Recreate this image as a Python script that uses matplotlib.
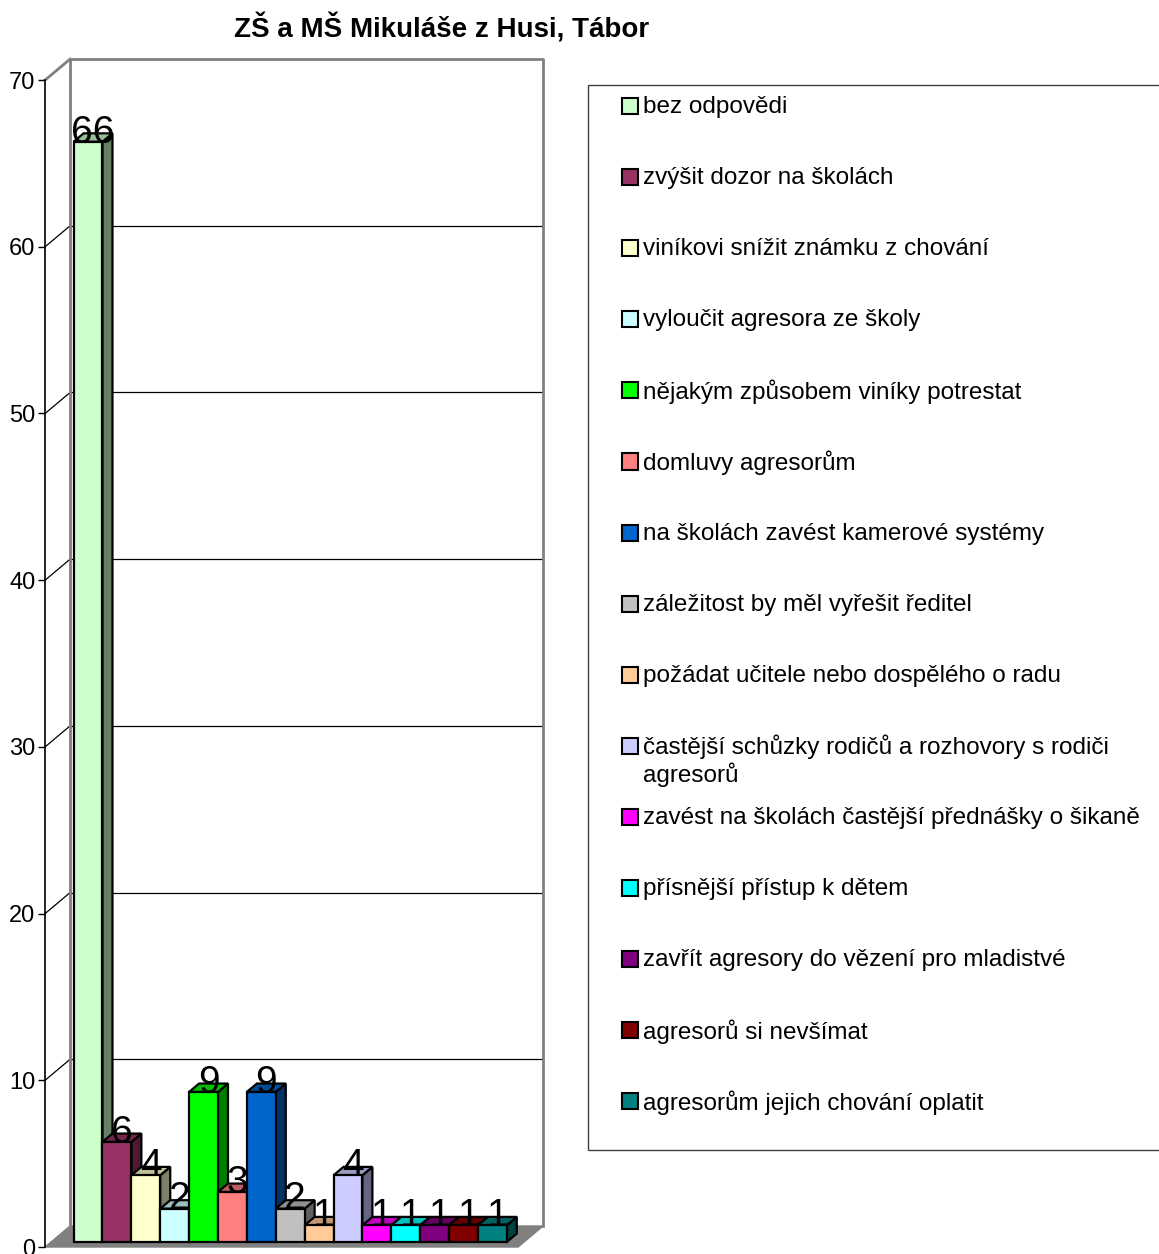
import matplotlib
matplotlib.use("Agg")
import matplotlib.pyplot as plt
from matplotlib.patches import Polygon, Rectangle
import numpy as np

plt.rcParams['font.family'] = ['Liberation Sans', 'DejaVu Sans']

# --- data ---
title = "ZŠ a MŠ Mikuláše z Husi, Tábor"
categories = [
    "bez odpovědi",
    "zvýšit dozor na školách",
    "viníkovi snížit známku z chování",
    "vyloučit agresora ze školy",
    "nějakým způsobem viníky potrestat",
    "domluvy agresorům",
    "na školách zavést kamerové systémy",
    "záležitost by měl vyřešit ředitel",
    "požádat učitele nebo dospělého o radu",
    "častější schůzky rodičů a rozhovory s rodiči\nagresorů",
    "zavést na školách častější přednášky o šikaně",
    "přísnější přístup k dětem",
    "zavřít agresory do vězení pro mladistvé",
    "agresorů si nevšímat",
    "agresorům jejich chování oplatit",
]
values = [66, 6, 4, 2, 9, 3, 9, 2, 1, 4, 1, 1, 1, 1, 1]
colors = ["#CCFFCC", "#993366", "#FFFFCC", "#CCFFFF", "#00FF00", "#FF8080",
          "#0066CC", "#C0C0C0", "#FFCC99", "#CCCCFF", "#FF00FF", "#00FFFF",
          "#800080", "#800000", "#008080"]
yticks = [0, 10, 20, 30, 40, 50, 60, 70]

W, H = 1159, 1254
fig = plt.figure(figsize=(W / 100, H / 100), dpi=100)

# plot area: left part of the figure, pixel based layout
PX_X0, PX_UNIT_X = 67.6, 28.88   # front plane: x=0 at this pixel, px per category
PX_Y0, PX_UNIT_Y = 1247.0, 16.67  # value 0 at this pixel row, px per unit
AX_W = 580
ax = fig.add_axes([0, 0, AX_W / W, 1])
ax.set_xlim((0 - PX_X0) / PX_UNIT_X, (AX_W - PX_X0) / PX_UNIT_X)
ax.set_ylim((PX_Y0 - H) / PX_UNIT_Y, PX_Y0 / PX_UNIT_Y)

XL, XR = -0.78, 15.6          # category axis extent (front plane)
DX, DY = 25 / PX_UNIT_X, 21 / PX_UNIT_Y   # full depth offset
F0, F1 = 0.24, 0.64           # bar front / back depth
VMAX = 70


def proj(x, v, d):
    return (x + d * DX, v + d * DY)


grey = "#808080"

# floor
ax.add_patch(Polygon([proj(XL, 0, 0), proj(XR, 0, 0), proj(XR, 0, 1), proj(XL, 0, 1)],
                     closed=True, facecolor=grey, edgecolor=grey, lw=1, zorder=1))

# back wall gridlines and depth lines
for t in yticks:
    if 0 < t < VMAX:
        a, b = proj(XL, t, 1), proj(XR, t, 1)
        ax.plot([a[0], b[0]], [a[1], b[1]], color="black", lw=0.9, zorder=1)
        c = proj(XL, t, 0)
        ax.plot([c[0], a[0]], [c[1], a[1]], color="black", lw=0.9, zorder=1)

# wall border
tl, tr = proj(XL, VMAX, 1), proj(XR, VMAX, 1)
bl, br = proj(XL, 0, 1), proj(XR, 0, 1)
ax.plot([bl[0], tl[0], tr[0], br[0]], [bl[1], tl[1], tr[1], br[1]], color=grey, lw=2, zorder=1.5)
f70 = proj(XL, VMAX, 0)
ax.plot([f70[0], tl[0]], [f70[1], tl[1]], color=grey, lw=2, zorder=1.5)


def shade(c, k):
    r, g, b = matplotlib.colors.to_rgb(c)
    return (r * k, g * k, b * k)


# bars
for i, (v, c) in enumerate(zip(values, colors)):
    side = [proj(i + 1, 0, F0), proj(i + 1, 0, F1), proj(i + 1, v, F1), proj(i + 1, v, F0)]
    top = [proj(i, v, F0), proj(i + 1, v, F0), proj(i + 1, v, F1), proj(i, v, F1)]
    front = [proj(i, 0, F0), proj(i + 1, 0, F0), proj(i + 1, v, F0), proj(i, v, F0)]
    z = 2 + i * 0.01
    ax.add_patch(Polygon(side, closed=True, facecolor=shade(c, 0.5), edgecolor="black", lw=1.6, zorder=z))
    ax.add_patch(Polygon(top, closed=True, facecolor=shade(c, 0.75), edgecolor="black", lw=1.6, zorder=z))
    ax.add_patch(Polygon(front, closed=True, facecolor=c, edgecolor="black", lw=1.6, zorder=z))

for i, v in enumerate(values):
    lx, ly = proj(i + 0.5, v, (F0 + F1) / 2)
    ax.text(lx, ly + 0.3, str(v), ha="center", va="center", fontsize=28, color="black", zorder=5)

# value axis on the front plane
for s in ["top", "right", "bottom"]:
    ax.spines[s].set_visible(False)
ax.spines["left"].set_position(("data", XL))
ax.spines["left"].set_bounds(0, VMAX)
ax.spines["left"].set_linewidth(1.2)
ax.set_yticks(yticks)
ax.set_yticklabels([str(t) for t in yticks], fontsize=17)
ax.tick_params(axis="y", length=5, width=1, direction="out", pad=2)
ax.set_xticks([])
ax.patch.set_visible(False)

# title
fig.text(442 / W, 1 - 28 / H, title, ha="center", va="center", fontsize=20, fontweight="bold")

# legend (manual, right side)
lx0, ly0, ly1 = 588, 85, 1150
fig.patches.append(Rectangle((lx0 / W, 1 - ly1 / H), (W + 10 - lx0) / W, (ly1 - ly0) / H,
                             transform=fig.transFigure, facecolor="none", edgecolor="#404040",
                             lw=1, figure=fig))
row0, row_step, line_h = 106, 71.1, 28
for k, (lab, c) in enumerate(zip(categories, colors)):
    yc = row0 + k * row_step
    fig.patches.append(Rectangle((622 / W, 1 - (yc + 8) / H), 16 / W, 16 / H,
                                 transform=fig.transFigure, facecolor=c, edgecolor="black",
                                 lw=1.5, figure=fig))
    nl = lab.count("\n")
    fig.text(643 / W, 1 - (yc + 1 + nl * line_h / 2) / H, lab, ha="left", va="center",
             fontsize=17.5, linespacing=1.15)

fig.savefig("out.png", dpi=100)
